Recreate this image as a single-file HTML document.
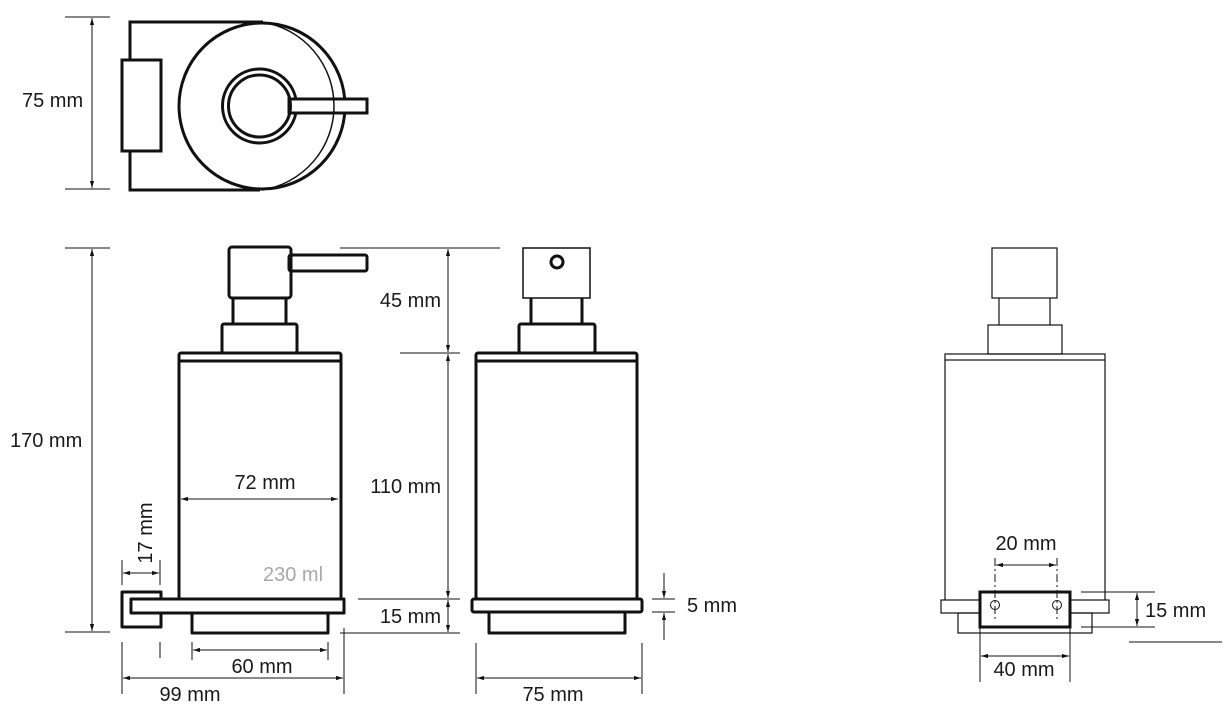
<!DOCTYPE html>
<html><head><meta charset="utf-8"><style>
html,body{margin:0;padding:0;background:#fff;}
svg{display:block;}
text{font-family:"Liberation Sans",sans-serif;font-size:20px;fill:#1a1a1a;}
</style></head><body>
<svg width="1231" height="714" viewBox="0 0 1231 714" xmlns="http://www.w3.org/2000/svg">
<defs>
<marker id="a" viewBox="0 0 10 10" refX="10" refY="5" markerWidth="7" markerHeight="7" orient="auto-start-reverse"><path d="M0,2 L10,5 L0,8 z" fill="#111"/></marker>
</defs>
<g stroke="#111" fill="none">
<g stroke-width="3">
<path d="M263,22 H130 V60 M130,151 V190 H260"/>
<rect x="122" y="60" width="39" height="91" fill="#fff"/>
<circle cx="262" cy="106" r="83"/>
<circle cx="259.5" cy="106" r="37"/>
<rect x="289" y="99" width="78" height="14" fill="#fff"/>
</g>
<path d="M262,22 A85,85 0 0 1 262,190" stroke-width="1.5"/>
<circle cx="259.5" cy="106" r="31" stroke-width="3"/>
<g stroke-width="1">
<line x1="65" y1="17" x2="110" y2="17"/><line x1="65" y1="189" x2="110" y2="189"/>
<line x1="92" y1="18" x2="92" y2="188" marker-start="url(#a)" marker-end="url(#a)"/>
</g>

<g stroke-width="3" stroke-linejoin="round">
<rect x="229" y="247" width="62" height="51" rx="3"/>
<rect x="289" y="255" width="78" height="16" rx="2"/>
<path d="M233,298 V324 M286,298 V324"/>
<rect x="222" y="324" width="75" height="29" rx="2"/>
<rect x="179" y="353" width="162" height="246" rx="2"/>
<line x1="179" y1="361" x2="341" y2="361"/>
<rect x="122" y="592" width="39" height="35" fill="#fff"/>
<rect x="131" y="599" width="213" height="14" fill="#fff"/>
<rect x="192" y="613" width="136" height="20"/>
</g>
<g stroke-width="1">
<line x1="65" y1="248" x2="110" y2="248"/><line x1="65" y1="632" x2="110" y2="632"/>
<line x1="92" y1="249" x2="92" y2="631" marker-start="url(#a)" marker-end="url(#a)"/>
<line x1="181" y1="499" x2="338" y2="499" marker-start="url(#a)" marker-end="url(#a)"/>
<line x1="122" y1="560" x2="122" y2="585"/><line x1="160" y1="560" x2="160" y2="585"/>
<line x1="123" y1="573" x2="159" y2="573" marker-start="url(#a)" marker-end="url(#a)"/>
<line x1="122" y1="642" x2="122" y2="694"/><line x1="160" y1="642" x2="160" y2="658"/>
<line x1="192" y1="642" x2="192" y2="660"/><line x1="328" y1="642" x2="328" y2="660"/>
<line x1="344" y1="628" x2="344" y2="694"/>
<line x1="193" y1="650" x2="327" y2="650" marker-start="url(#a)" marker-end="url(#a)"/>
<line x1="123" y1="678" x2="343" y2="678" marker-start="url(#a)" marker-end="url(#a)"/>
<line x1="340" y1="248" x2="500" y2="248"/>
<line x1="400" y1="353" x2="460" y2="353"/>
<line x1="358" y1="599" x2="460" y2="599"/>
<line x1="340" y1="633" x2="460" y2="633"/>
<line x1="448" y1="249" x2="448" y2="352" marker-start="url(#a)" marker-end="url(#a)"/>
<line x1="448" y1="354" x2="448" y2="598" marker-start="url(#a)" marker-end="url(#a)"/>
<line x1="448" y1="600" x2="448" y2="632" marker-start="url(#a)" marker-end="url(#a)"/>
</g>

<g stroke-width="3" stroke-linejoin="round">
<path d="M531,298 V324 M582,298 V324"/>
<rect x="519" y="324" width="76" height="29" rx="2"/>
<rect x="476" y="353" width="161" height="246" rx="2"/>
<line x1="476" y1="361" x2="637" y2="361"/>
<rect x="472" y="599" width="170" height="13" rx="2" fill="#fff"/>
<rect x="489" y="612" width="136" height="21"/>
<circle cx="557" cy="262" r="6"/>
</g>
<rect x="523" y="248" width="67" height="50" stroke-width="1.5"/>
<g stroke-width="1">
<line x1="652" y1="599" x2="675" y2="599"/><line x1="652" y1="612" x2="675" y2="612"/>
<line x1="664" y1="573" x2="664" y2="598" marker-end="url(#a)"/>
<line x1="664" y1="640" x2="664" y2="613" marker-end="url(#a)"/>
<line x1="476" y1="643" x2="476" y2="694"/><line x1="642" y1="643" x2="642" y2="694"/>
<line x1="477" y1="678" x2="641" y2="678" marker-start="url(#a)" marker-end="url(#a)"/>
</g>

<g stroke-width="1.2">
<rect x="992" y="248" width="65" height="50"/>
<path d="M999,298 V325 M1050,298 V325"/>
<rect x="988" y="325" width="74" height="29"/>
<rect x="945" y="354" width="160" height="6"/>
<path d="M945,360 V600 M1105,360 V600"/>
<rect x="941" y="600" width="168" height="13" fill="#fff"/>
<rect x="958" y="613" width="134" height="20"/>
</g>
<rect x="980" y="592" width="90" height="35" stroke-width="3" fill="#fff"/>
<g stroke-width="1">
<circle cx="995" cy="605" r="4.5"/><circle cx="1057" cy="605" r="4.5"/>
<line x1="995" y1="558" x2="995" y2="620" stroke-dasharray="8,3,2,3"/>
<line x1="1057" y1="558" x2="1057" y2="620" stroke-dasharray="8,3,2,3"/>
<line x1="996" y1="565" x2="1056" y2="565" marker-start="url(#a)" marker-end="url(#a)"/>
<line x1="1081" y1="592" x2="1155" y2="592"/><line x1="1081" y1="627" x2="1155" y2="627"/>
<line x1="1137" y1="593" x2="1137" y2="626" marker-start="url(#a)" marker-end="url(#a)"/>
<line x1="1129" y1="642" x2="1222" y2="642"/>
<line x1="980" y1="628" x2="980" y2="682"/><line x1="1070" y1="628" x2="1070" y2="682"/>
<line x1="981" y1="656" x2="1069" y2="656" marker-start="url(#a)" marker-end="url(#a)"/>
</g>
</g>

<text x="22" y="107">75 mm</text>
<text x="10" y="447">170 mm</text>
<text x="265" y="489" text-anchor="middle">72 mm</text>
<text x="152" y="533" transform="rotate(-90 152 533)" text-anchor="middle">17 mm</text>
<text x="293" y="581" text-anchor="middle" style="fill:#a8a8a8">230 ml</text>
<text x="262" y="673" text-anchor="middle">60 mm</text>
<text x="190" y="701" text-anchor="middle">99 mm</text>
<text x="441" y="307" text-anchor="end">45 mm</text>
<text x="441" y="493" text-anchor="end">110 mm</text>
<text x="441" y="623" text-anchor="end">15 mm</text>
<text x="687" y="612">5 mm</text>
<text x="553" y="701" text-anchor="middle">75 mm</text>
<text x="1026" y="550" text-anchor="middle">20 mm</text>
<text x="1145" y="617">15 mm</text>
<text x="1024" y="676" text-anchor="middle">40 mm</text>
</svg>
</body></html>
